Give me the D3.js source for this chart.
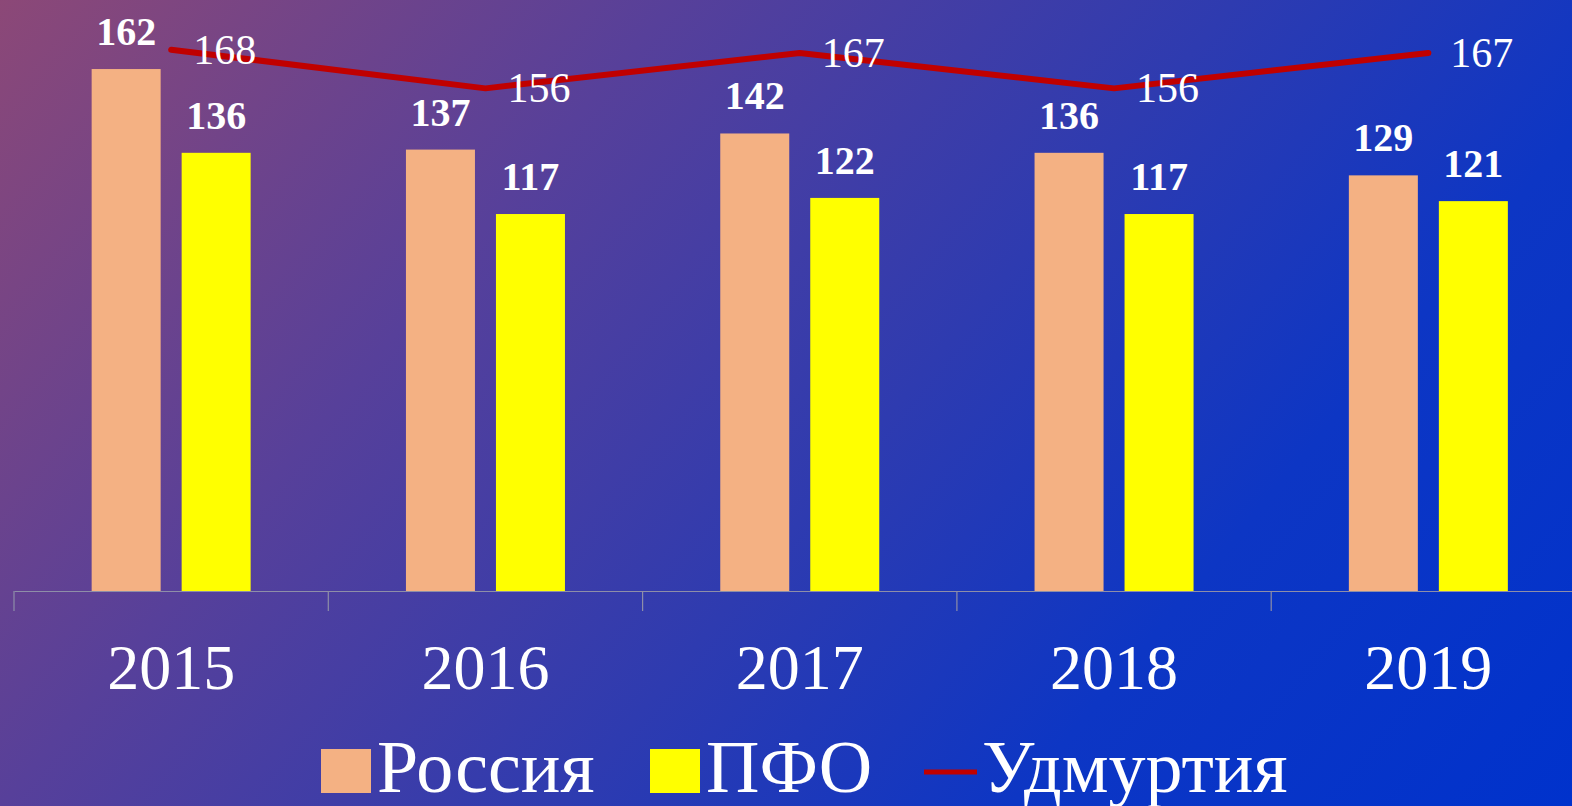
<!DOCTYPE html>
<html><head><meta charset="utf-8">
<script src="https://cdn.jsdelivr.net/npm/d3@7"></script>
<style>html,body{margin:0;padding:0;overflow:hidden;background:#0033cc}</style>
</head><body>
<svg id="chart" width="1572" height="806"></svg>
<script>
const years = ["2015","2016","2017","2018","2019"];
const russia = [162, 137, 142, 136, 129];
const pfo = [136, 117, 122, 117, 121];
const udm = [168, 156, 167, 156, 167];
const seriesNames = ["Россия", "ПФО", "Удмуртия"];
const colors = {"Россия":"#f4b183", "ПФО":"#ffff00", "Удмуртия":"#c00000"};

const W = 1572, H = 806;
const svg = d3.select("#chart");
const defs = svg.append("defs");
const grad = defs.append("linearGradient").attr("id","bg")
  .attr("gradientUnits","userSpaceOnUse")
  .attr("x1",0).attr("y1",0).attr("x2",1322).attr("y2",1105);
[[0,"#8c4877"],[0.3,"#57409a"],[0.55,"#2e3bb0"],[0.75,"#0d36c4"],[1,"#0032cc"]]
  .forEach(([o,c]) => grad.append("stop").attr("offset",o).attr("stop-color",c));
svg.append("rect").attr("width",W).attr("height",H).attr("fill","url(#bg)");

const serif = "'Liberation Serif','Times New Roman',serif";
const baseY = 591;
const x = d3.scaleBand().domain(years).range([14, 14 + 5*314.3]).padding(0);
const inner = d3.scaleBand().domain(["Россия","ПФО"])
  .range([x.bandwidth()/2 - 79.5, x.bandwidth()/2 + 79.5]).paddingInner(0.2333);
const y = d3.scaleLinear().domain([0, 180]).range([baseY, baseY - 180*3.222]);

// axis
const axis = svg.append("g").attr("transform", `translate(0,${baseY})`)
  .call(d3.axisBottom(x).tickSize(0).tickFormat(""));
axis.select(".domain").attr("stroke","#8e8ea8").attr("stroke-width",1.2);
axis.selectAll(".tick").remove();
const bounds = years.map(yr => x(yr));
axis.selectAll("line.sep").data(bounds).join("line").attr("class","sep")
  .attr("x1",d=>d).attr("x2",d=>d).attr("y1",0).attr("y2",20)
  .attr("stroke","#8e8ea8").attr("stroke-width",1.2);

// year labels
svg.append("g").selectAll("text").data(years).join("text")
  .attr("x", d => x(d) + x.bandwidth()/2).attr("y", 689)
  .attr("text-anchor","middle").attr("fill","#fff")
  .attr("font-family",serif).attr("font-size",64)
  .text(d => d);

// bars
const barData = [];
years.forEach((yr,i) => {
  barData.push({yr, s:"Россия", v:russia[i]});
  barData.push({yr, s:"ПФО", v:pfo[i]});
});
svg.append("g").selectAll("rect").data(barData).join("rect")
  .attr("x", d => x(d.yr) + inner(d.s))
  .attr("y", d => y(d.v))
  .attr("width", inner.bandwidth())
  .attr("height", d => baseY - y(d.v))
  .attr("fill", d => colors[d.s]);
svg.append("g").selectAll("text").data(barData).join("text")
  .attr("x", d => x(d.yr) + inner(d.s) + inner.bandwidth()/2)
  .attr("y", d => y(d.v) - 24)
  .attr("text-anchor","middle").attr("fill","#fff")
  .attr("font-family",serif).attr("font-weight","bold").attr("font-size",40)
  .text(d => d.v);

// line
const line = d3.line().x((d,i) => x(years[i]) + x.bandwidth()/2).y(d => y(d));
svg.append("path").datum(udm).attr("d", line)
  .attr("fill","none").attr("stroke",colors["Удмуртия"]).attr("stroke-width",6)
  .attr("stroke-linejoin","round").attr("stroke-linecap","round");
svg.append("g").selectAll("text").data(udm).join("text")
  .attr("x", (d,i) => x(years[i]) + x.bandwidth()/2 + 22)
  .attr("y", d => y(d) + 14)
  .attr("fill","#fff").attr("font-family",serif).attr("font-size",42)
  .text(d => d);

// legend
const lg = svg.append("g");
const legendItems = [
  {s:"Россия", kind:"rect", x:321},
  {s:"ПФО", kind:"rect", x:650},
  {s:"Удмуртия", kind:"line", x:924}
];
legendItems.forEach(it => {
  if (it.kind === "rect") {
    lg.append("rect").attr("x", it.x).attr("y", 749).attr("width", 50).attr("height", 44)
      .attr("fill", colors[it.s]);
  } else {
    lg.append("line").attr("x1", it.x).attr("x2", it.x + 53).attr("y1", 772).attr("y2", 772)
      .attr("stroke", colors[it.s]).attr("stroke-width", 5);
  }
  lg.append("text").attr("x", it.x + (it.kind==="rect" ? 56 : 58)).attr("y", 792)
    .attr("fill","#fff").attr("font-family",serif).attr("font-size",74)
    .text(it.s);
});
</script>
</body></html>
